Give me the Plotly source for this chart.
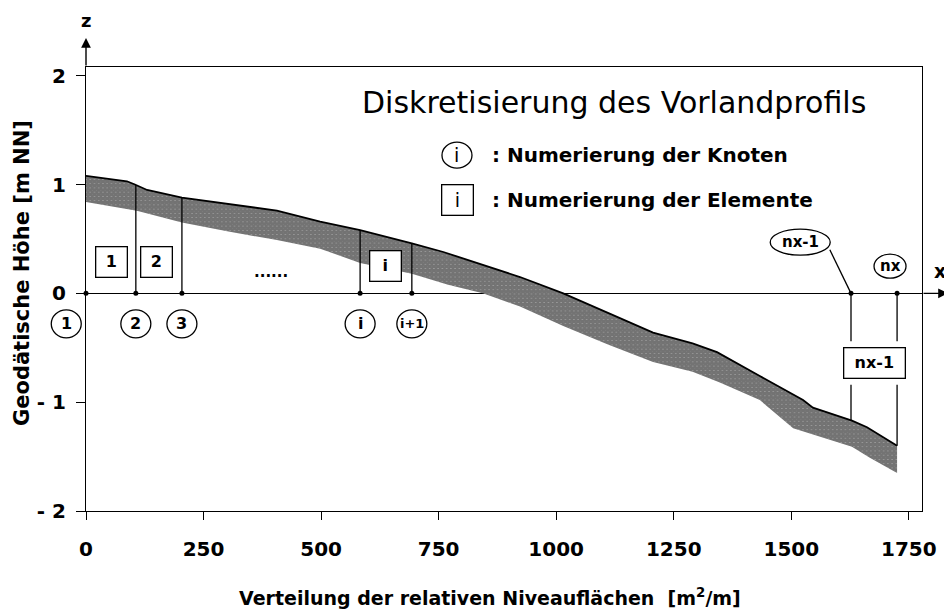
import numpy as np
import plotly.graph_objects as go

# ---------------- data ----------------
x_top = [0, 87, 104, 130, 204, 300, 406, 498, 583, 693, 760, 923, 1015, 1110,
         1206, 1290, 1342, 1433, 1525, 1546, 1629, 1661, 1725]
z_top = [1.08, 1.03, 1.00, 0.95, 0.88, 0.82, 0.76, 0.66, 0.58, 0.46, 0.38, 0.15,
         0.0, -0.18, -0.36, -0.46, -0.54, -0.76, -0.98, -1.05, -1.17, -1.23, -1.40]
x_bot = [0, 108, 204, 300, 406, 498, 583, 693, 770, 844, 923, 1015, 1110, 1206,
         1290, 1348, 1433, 1504, 1546, 1629, 1667, 1725]
z_bot = [0.84, 0.76, 0.65, 0.57, 0.49, 0.41, 0.28, 0.18, 0.08, 0.0, -0.12, -0.30,
         -0.47, -0.63, -0.72, -0.82, -0.98, -1.24, -1.30, -1.41, -1.51, -1.65]

node_x = [0, 106, 204, 583, 693, 1627, 1725]
node_labels = ["1", "2", "3", "i", "i+1", "nx-1", "nx"]
node_label_x = [-42, 106, 204, 583, 693, 1519, 1710]
node_label_z = [-0.28, -0.28, -0.28, -0.28, -0.28, 0.47, 0.25]

elem_labels = ["1", "2", "i", "nx-1"]
elem_x = [55, 150, 637, 1677]
elem_z = [0.285, 0.285, 0.25, -0.64]

x_ticks = [0, 250, 500, 750, 1000, 1250, 1500, 1750]
y_ticks = [-2, -1, 0, 1, 2]
y_ticktext = ["- 2", "- 1", "0", "1", "2"]

XR = [0, 1778]
YR = [-2, 2.08]

FONT = "DejaVu Sans"
FONTB = "DejaVu Sans"

PW, PH = 836, 444  # plot area size in px


def xp(v):
    return (v - XR[0]) / (XR[1] - XR[0])


def yp(v):
    return (v - YR[0]) / (YR[1] - YR[0])


def bfont(size):
    return dict(family=FONTB, size=size, color="black", weight="bold")


fig = go.Figure()

# hatched band
fig.add_trace(go.Scatter(
    x=x_top + x_bot[::-1], y=z_top + z_bot[::-1],
    mode="lines", fill="toself", line=dict(width=0, color="rgba(0,0,0,0)"),
    fillcolor="white",
    fillpattern=dict(shape="x", size=3, solidity=0.95, fgcolor="#000", bgcolor="#e6e6e6"),
    hoverinfo="skip", showlegend=False))
# surface line
fig.add_trace(go.Scatter(x=x_top, y=z_top, mode="lines",
                         line=dict(color="black", width=1.8), showlegend=False,
                         hoverinfo="skip"))
# node dots
fig.add_trace(go.Scatter(x=node_x, y=[0] * len(node_x), mode="markers",
                         marker=dict(color="black", size=5), cliponaxis=False,
                         showlegend=False, hoverinfo="skip"))

shapes = []
annos = []
top_at_nodes = np.interp(node_x, x_top, z_top)

# vertical node lines
box_half = 0.20
for i, (nx_, zt) in enumerate(zip(node_x, top_at_nodes)):
    if i == 0:
        continue
    if zt >= 0:
        shapes.append(dict(type="line", xref="x", yref="y", x0=nx_, x1=nx_, y0=0, y1=zt,
                           line=dict(color="black", width=1.3)))
    else:
        zc = elem_z[-1]
        shapes.append(dict(type="line", xref="x", yref="y", x0=nx_, x1=nx_, y0=0,
                           y1=zc + box_half, line=dict(color="black", width=1.3)))
        shapes.append(dict(type="line", xref="x", yref="y", x0=nx_, x1=nx_,
                           y0=zc - box_half, y1=zt, line=dict(color="black", width=1.3)))

# leader line for nx-1 label
shapes.append(dict(type="line", xref="x", yref="y", x0=1582, y0=0.40, x1=node_x[5], y1=0,
                   line=dict(color="black", width=1.3)))

# node circles + labels
for lab, lx, lz in zip(node_labels, node_label_x, node_label_z):
    if lab == "nx-1":
        hw, hh = 30, 13
    elif lab == "nx":
        hw, hh = 16, 12
    else:
        hw, hh = 15, 14
    shapes.append(dict(type="circle", xref="paper", yref="paper",
                       xsizemode="pixel", ysizemode="pixel",
                       xanchor=xp(lx), yanchor=yp(lz), x0=-hw, x1=hw, y0=-hh, y1=hh,
                       line=dict(color="black", width=1.3), fillcolor="white"))
    size = 13 if lab == "i+1" else (15 if len(lab) > 1 else 16)
    annos.append(dict(x=xp(lx), y=yp(lz), xref="paper", yref="paper", text=lab,
                      xanchor="center", yanchor="middle", showarrow=False,
                      font=bfont(size)))

# element boxes
for lab, ex, ez in zip(elem_labels, elem_x, elem_z):
    annos.append(dict(x=ex, y=ez, xref="x", yref="y", text=lab, showarrow=False,
                      xanchor="center", yanchor="middle", font=bfont(16),
                      bordercolor="black", borderwidth=1.3, borderpad=5, bgcolor="white",
                      width=50 if len(lab) > 2 else 20, height=19))

annos.append(dict(x=394, y=0.2, xref="x", yref="y", text="......", showarrow=False,
                  xanchor="center", yanchor="middle", font=bfont(15)))

# legend / title block
annos.append(dict(x=583, y=1.75, xref="x", yref="y", text="Diskretisierung des Vorlandprofils",
                  xanchor="left", yanchor="middle", showarrow=False,
                  font=dict(family=FONT, size=30, color="black")))
shapes.append(dict(type="circle", xref="x", yref="y", xsizemode="pixel", ysizemode="pixel",
                   xanchor=789, yanchor=1.27, x0=-15, x1=15, y0=-13, y1=13,
                   line=dict(color="black", width=1.3)))
annos.append(dict(x=789, y=1.27, xref="x", yref="y", text="i", showarrow=False,
                  xanchor="center", yanchor="middle",
                  font=dict(family=FONT, size=19, color="black")))
annos.append(dict(x=791, y=0.86, xref="x", yref="y", text="i", showarrow=False,
                  xanchor="center", yanchor="middle",
                  font=dict(family=FONT, size=19, color="black"),
                  bordercolor="black", borderwidth=1.3, borderpad=4, width=22, height=21))
annos.append(dict(x=859, y=1.27, xref="x", yref="y", text=": Numerierung der Knoten",
                  xanchor="left", yanchor="middle", showarrow=False, font=bfont(20)))
annos.append(dict(x=859, y=0.86, xref="x", yref="y", text=": Numerierung der Elemente",
                  xanchor="left", yanchor="middle", showarrow=False, font=bfont(20)))

# axis arrows and letters
annos.append(dict(x=0, y=yp(2.08) + 29 / PH, xref="x", yref="paper", text="",
                  showarrow=True, ax=0, ay=29, arrowhead=2, arrowsize=1.4, arrowwidth=1.4,
                  arrowcolor="black"))
annos.append(dict(x=1 + 26 / PW, y=0, xref="paper", yref="y", text="",
                  showarrow=True, ax=-26, ay=0, arrowhead=2, arrowsize=1.4, arrowwidth=1.4,
                  arrowcolor="black"))
annos.append(dict(x=0, y=yp(2.08) + 47 / PH, xref="x", yref="paper", text="z",
                  xanchor="center", yanchor="middle", showarrow=False, font=bfont(18)))
annos.append(dict(x=1 + 18 / PW, y=0, yshift=22, xref="paper", yref="y", text="x",
                  xanchor="center", yanchor="middle", showarrow=False, font=bfont(19)))

# axis titles
annos.append(dict(x=-64 / PW, y=0.536, xref="paper", yref="paper",
                  text="Geodätische Höhe [m NN]", textangle=-90, showarrow=False,
                  xanchor="center", yanchor="middle", font=bfont(21)))
annos.append(dict(x=0.483, y=-86 / PH, xref="paper", yref="paper",
                  text="Verteilung der relativen Niveauflächen  [m<sup>2</sup>/m]",
                  xanchor="center", yanchor="middle", showarrow=False, font=bfont(19)))

# page body has an 8px margin -> figure is 944x602 placed at (8,8)
fig.update_layout(
    width=944, height=602,
    margin=dict(l=78, r=30, t=59, b=99),
    paper_bgcolor="white", plot_bgcolor="white",
    showlegend=False,
    shapes=shapes, annotations=annos,
    xaxis=dict(range=XR, tickvals=x_ticks, ticks="outside", ticklen=8, tickwidth=1.2,
               tickcolor="black", showline=True, linecolor="black", linewidth=1.3,
               mirror=True, showgrid=False, zeroline=False, ticklabelstandoff=12,
               tickfont=bfont(20)),
    yaxis=dict(range=YR, tickvals=y_ticks, ticktext=y_ticktext, ticks="outside",
               ticklen=9, tickwidth=1.2, tickcolor="black", showline=True,
               linecolor="black", linewidth=1.3, mirror=True, showgrid=False,
               zeroline=True, zerolinecolor="black", zerolinewidth=1.3,
               ticklabelstandoff=6, tickfont=bfont(20)),
)

fig.write_html("out.html")
